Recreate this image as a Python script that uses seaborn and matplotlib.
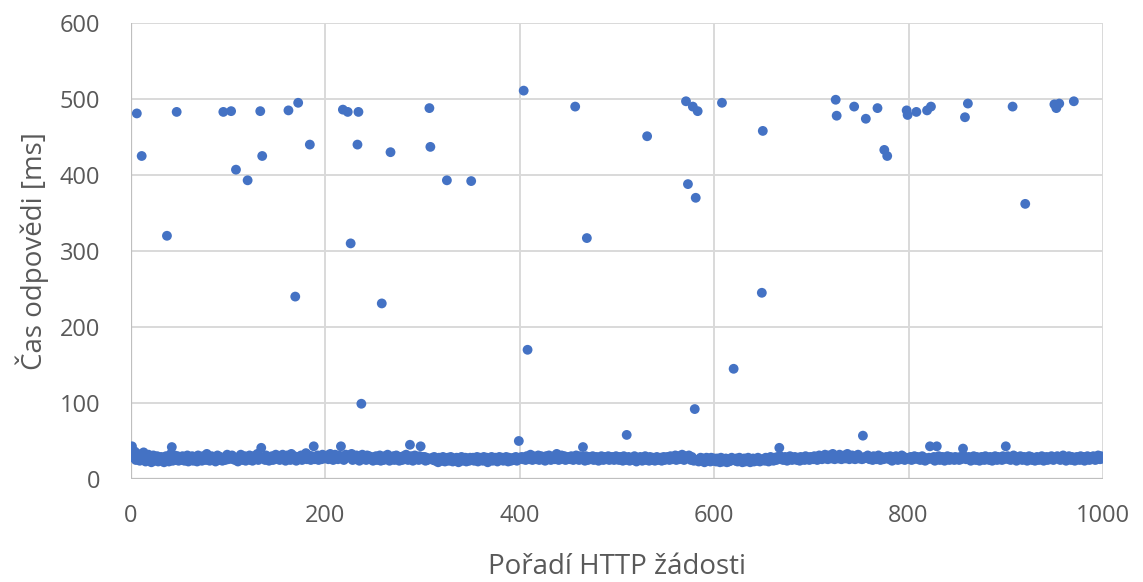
import numpy as np
import pandas as pd
import matplotlib
matplotlib.use("Agg")
import matplotlib.pyplot as plt
import seaborn as sns

# response time of the ordinary requests, one value per request 1..1000 (ms)
band_ms = """
34 31 28 36 25 30 33 27 24 29 31 26 35 28 23 30 27 32 25 29 22 27 31 24 28 26 30 23 27 25 29 24 28 22 26 30 25 27 23 29 33 26 24 28 31 25 27 30 24 26
28 25 30 27 24 29 26 31 23 27 25 28 30 24 26 29 27 23 31 25 28 26 24 30 27 29 25 33 26 28 24 27 30 25 29 26 23 28 31 27 25 29 26 24 30 28 25 27 32 26
29 27 24 31 26 28 25 30 27 23 29 26 32 28 25 27 30 24 29 26 28 31 25 27 24 30 26 29 27 33 25 28 26 30 24 27 29 25 31 28 26 24 29 27 30 25 28 26 32 27
30 27 25 29 28 32 26 30 24 28 31 27 29 25 33 28 26 30 27 24 29 32 26 28 31 25 30 27 29 34 26 28 31 27 25 30 28 33 26 29 27 31 25 28 30 26 32 29 27 30
28 31 26 29 33 27 30 25 28 32 27 29 26 31 28 34 27 30 25 29 32 28 26 31 29 27 33 25 30 28 26 31 27 29 24 30 28 32 26 29 27 25 31 28 30 26 29 27 24 28
27 30 25 28 26 31 24 29 27 25 30 28 26 32 27 24 29 26 28 30 25 27 31 26 28 24 29 27 25 30 26 28 32 27 25 29 26 30 27 24 28 31 26 29 27 25 30 28 26 29
26 29 24 28 25 27 30 23 26 28 25 29 24 27 26 22 28 25 27 24 29 26 23 27 25 28 24 26 29 25 23 27 26 24 28 25 22 27 26 29 24 26 25 28 23 27 25 24 28 26
25 28 24 27 26 29 23 26 28 25 27 24 29 26 25 28 22 27 25 26 29 24 27 25 28 26 23 27 29 25 26 28 24 27 25 29 26 23 28 26 24 27 25 28 26 29 24 27 26 28
27 29 26 31 28 25 30 27 29 26 32 28 25 30 27 29 26 28 31 25 27 30 26 29 28 24 30 27 26 31 28 25 29 27 30 26 28 33 27 25 29 26 31 28 27 30 25 28 26 29
28 26 30 27 25 29 27 31 26 28 25 30 27 29 26 28 24 30 27 25 29 26 28 27 30 25 28 26 29 27 24 28 26 30 27 25 29 28 26 27 30 25 28 26 29 27 25 28 30 26
27 25 29 26 28 24 30 27 25 28 26 29 24 27 26 28 25 30 27 23 28 26 25 29 27 24 28 26 30 25 27 26 24 29 27 25 28 26 24 27 29 25 27 26 28 24 27 29 25 28
26 29 27 25 30 28 26 29 27 31 25 28 30 26 29 27 32 28 25 30 27 29 26 31 28 25 29 27 24 26 28 25 27 23 26 28 24 27 25 22 26 28 24 27 25 23 28 26 24 27
25 23 27 24 26 22 28 25 23 26 24 27 22 25 23 26 24 28 25 22 26 24 27 23 25 28 24 26 22 25 27 23 26 24 28 25 22 26 24 27 23 25 26 24 28 25 23 26 24 27
26 24 28 25 27 23 26 29 25 27 24 28 26 25 29 27 24 30 26 28 25 27 29 26 24 28 26 30 27 25 28 26 29 27 25 28 26 24 29 27 26 28 25 30 27 26 28 25 29 27
28 26 30 27 29 25 28 31 27 29 26 30 28 32 27 29 26 31 28 30 27 33 29 26 31 28 30 27 32 29 26 30 28 31 27 29 33 28 26 30 28 31 27 29 26 30 28 32 27 29
28 26 30 27 29 25 28 31 27 26 29 28 25 30 27 29 26 28 31 27 25 29 28 26 30 27 29 25 28 26 30 27 24 29 28 26 30 27 25 29 28 26 31 27 29 25 28 26 30 27
27 29 25 28 26 30 27 24 29 26 28 25 27 30 26 28 24 27 29 26 28 25 30 27 26 29 24 28 26 27 30 25 28 26 29 27 24 28 26 30 27 25 29 26 28 27 25 29 26 28
27 25 29 26 28 24 30 27 26 28 25 29 27 24 28 26 30 27 25 29 26 28 24 27 29 26 28 25 30 27 26 28 25 29 27 24 28 26 30 27 25 29 26 28 27 25 30 26 28 29
27 30 26 28 25 29 27 31 26 28 24 27 29 26 30 28 25 27 29 26 28 24 27 30 26 29 25 28 27 24 26 29 27 25 28 26 30 27 24 28 26 29 25 27 28 26 30 27 25 29
28 26 30 27 29 25 28 26 31 27 29 24 28 26 30 27 25 29 28 26 24 27 29 26 28 25 30 27 26 29 24 28 26 30 27 25 29 26 28 30 27 25 29 26 31 28 26 30 27 29
"""

# slow requests: request number and time (ms)
slow_req = [1, 6, 11, 37, 42, 47, 95, 103, 108, 120, 133, 134, 135, 162, 169, 172, 184, 188,
            216, 218, 223, 226, 233, 234, 237, 258, 267, 287, 298, 307, 308, 325, 350,
            399, 404, 408, 457, 465, 469, 510, 531, 571, 573, 578, 580, 581, 583, 608,
            620, 649, 650, 667, 725, 726, 744, 753, 756, 768, 775, 778, 798, 799, 808,
            819, 822, 823, 829, 856, 858, 861, 900, 907, 920, 950, 952, 955, 970]
slow_ms = [43, 481, 425, 320, 42, 483, 483, 484, 407, 393, 484, 41, 425, 485, 240, 495, 440, 43,
           43, 486, 483, 310, 440, 483, 99, 231, 430, 45, 43, 488, 437, 393, 392,
           50, 511, 170, 490, 42, 317, 58, 451, 497, 388, 490, 92, 370, 484, 495,
           145, 245, 458, 41, 499, 478, 490, 57, 474, 488, 433, 425, 485, 479, 483,
           485, 43, 490, 43, 40, 476, 494, 43, 490, 362, 493, 488, 494, 497]

times = np.array(band_ms.split(), dtype=float)
req = np.arange(1, len(times) + 1)
times[np.array(slow_req) - 1] = slow_ms
df = pd.DataFrame({"req": req, "ms": times})

sns.set_style("whitegrid")
plt.rcParams["font.family"] = ["Open Sans", "DejaVu Sans"]

fig = plt.figure(figsize=(11.43, 5.82), dpi=100)
ax = fig.add_axes([0.1146, 0.177, 0.8504, 0.7835])

sns.scatterplot(data=df, x="req", y="ms", ax=ax, color="#4472C4", s=50,
                edgecolor="none", linewidth=0, zorder=3)

ax.set_xlim(0, 1000)
ax.set_ylim(0, 600)
ax.set_xticks(range(0, 1001, 200))
ax.set_yticks(range(0, 601, 100))
ax.grid(True, color="#D9D9D9", linewidth=1.4)
for s in ax.spines.values():
    s.set_visible(False)
ax.axhline(0, color="#BFBFBF", linewidth=1.6, zorder=2)
ax.axvline(0, color="#BFBFBF", linewidth=1.6, zorder=2)

ax.tick_params(axis="both", colors="#595959", labelsize=17, length=0)
ax.tick_params(axis="y", pad=22)
ax.tick_params(axis="x", pad=18)
ax.set_xlabel("Pořadí HTTP žádosti", fontsize=20, color="#595959", labelpad=18)
ax.set_ylabel("Čas odpovědi [ms]", fontsize=20, color="#595959", labelpad=8)

fig.savefig("out.png", dpi=100)
